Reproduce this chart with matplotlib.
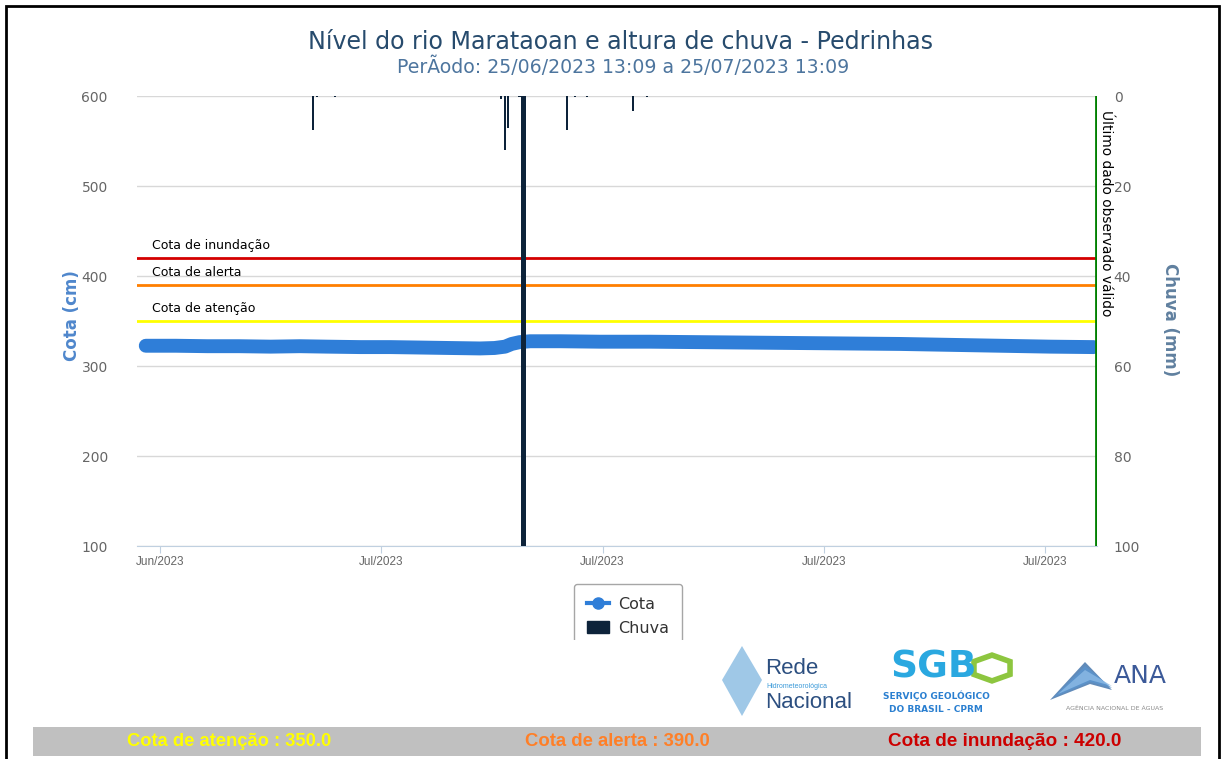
import matplotlib
matplotlib.use("Agg")
import matplotlib.pyplot as plt
import matplotlib.dates as mdates
import numpy as np
import pandas as pd
from matplotlib.patches import Rectangle, Polygon, Patch, RegularPolygon
from matplotlib.lines import Line2D

# ---------------- data ----------------
title = "Nível do rio Marataoan e altura de chuva - Pedrinhas"
subtitle = "PerÃodo: 25/06/2023 13:09 a 25/07/2023 13:09"

cota_times = ["2023-06-25 13:09", "2023-06-26 12:00", "2023-06-27 12:00", "2023-06-28 12:00",
              "2023-06-29 12:00", "2023-06-30 10:00", "2023-07-01 07:00", "2023-07-02 08:00",
              "2023-07-03 07:00", "2023-07-04 06:00", "2023-07-05 04:00", "2023-07-06 03:00",
              "2023-07-06 14:00", "2023-07-06 22:00", "2023-07-07 03:00", "2023-07-07 09:00",
              "2023-07-07 17:00", "2023-07-08 16:00", "2023-07-09 22:00", "2023-07-11 12:00",
              "2023-07-13 02:00", "2023-07-14 16:00", "2023-07-16 06:00", "2023-07-17 20:00",
              "2023-07-19 10:00", "2023-07-21 00:00", "2023-07-22 14:00", "2023-07-24 04:00",
              "2023-07-25 13:00"]
cota_values = [322.5, 322.5, 322.0, 322.0, 321.5, 322.0, 321.5, 321.0,
               321.0, 320.5, 320.0, 319.5, 320.0, 321.5, 324.5, 326.5,
               327.5, 327.5, 327.0, 327.0, 326.5, 326.0, 325.5, 325.0,
               324.5, 323.5, 322.5, 321.5, 321.0]

chuva_times = ["2023-06-30 20:00", "2023-06-30 23:00", "2023-07-01 13:00", "2023-07-06 19:00",
               "2023-07-06 22:00", "2023-07-07 00:00", "2023-07-07 09:00", "2023-07-07 12:00",
               "2023-07-08 21:00", "2023-07-09 03:00", "2023-07-09 12:00", "2023-07-10 23:00",
               "2023-07-11 10:00"]
chuva_values = [7.5, 0.3, 0.3, 0.6, 12.0, 7.0, 0.3, 100.0, 7.5, 0.3, 0.3, 3.3, 0.3]

cota_atencao = 350.0
cota_alerta = 390.0
cota_inundacao = 420.0
ultimo_dado = "2023-07-25 15:00"

x_range = ["2023-06-25 06:30", "2023-07-25 15:30"]
xtick_dates = ["2023-06-26", "2023-07-03", "2023-07-10", "2023-07-17", "2023-07-24"]
xtick_labels = ["Jun/2023", "Jul/2023", "Jul/2023", "Jul/2023", "Jul/2023"]
cota_ticks = [100, 200, 300, 400, 500, 600]
chuva_ticks = [0, 20, 40, 60, 80, 100]

bottom_texts = ["Cota de atenção : 350.0", "Cota de alerta : 390.0", "Cota de inundação : 420.0"]

# ---------------- figure ----------------
W, H = 1225, 759
fig = plt.figure(figsize=(W / 100, H / 100), dpi=100)
fig.patch.set_facecolor("white")


def fx(x):
    return x / W


def fy(y):
    return 1 - y / H


ax = fig.add_axes([fx(137), fy(546), (1097 - 137) / W, 450 / H])
ax2 = ax.twinx()

t_cota = pd.to_datetime(cota_times)
t_chuva = pd.to_datetime(chuva_times)

# grid
ax.set_ylim(100, 600)
ax.set_yticks(cota_ticks)
ax.yaxis.grid(True, color="#D8D8D8", lw=1)
ax.set_axisbelow(True)
for s in ["top", "left", "right"]:
    ax.spines[s].set_visible(False)
    ax2.spines[s].set_visible(False)
ax.spines["bottom"].set_color("#C0D0E0")
ax2.spines["bottom"].set_visible(False)

ax.set_xlim(pd.to_datetime(x_range[0]), pd.to_datetime(x_range[1]))
ax.set_xticks(pd.to_datetime(xtick_dates))
ax.set_xticklabels(xtick_labels)
ax.tick_params(axis="x", length=5, color="#C0D0E0", pad=2, labelsize=8.5, labelcolor="#666666")
for lab in ax.get_xticklabels():
    lab.set_family(["Liberation Sans Narrow", "Liberation Sans", "DejaVu Sans"])
ax.tick_params(axis="y", length=0, pad=21, labelsize=10, labelcolor="#666666")

# thresholds
thr = [(cota_inundacao, "#d40000", "Cota de inundação"),
       (cota_alerta, "#ff7f00", "Cota de alerta"),
       (cota_atencao, "#ffff00", "Cota de atenção")]
for val, col, lab in thr:
    ax.axhline(val, color=col, lw=2, zorder=3)
    ax.annotate(lab, xy=(0, val), xycoords=("axes fraction", "data"),
                xytext=(15, 6), textcoords="offset pixels", fontsize=9,
                color="black", ha="left", va="bottom")

# cota line
ax.plot(t_cota, cota_values, color="#2f7ed8", lw=10, solid_capstyle="round",
        solid_joinstyle="round", zorder=6)

# chuva bars
ax2.set_ylim(100, 0)
ax2.set_yticks(chuva_ticks)
ax2.tick_params(axis="y", length=0, pad=12, labelsize=10, labelcolor="#666666")
widths = np.where(np.array(chuva_values) >= 100, 0.13, 0.07)
ax2.bar(t_chuva, chuva_values, width=widths, color="#0d233a", align="center", zorder=4)
ax2.set_xlim(pd.to_datetime(x_range[0]), pd.to_datetime(x_range[1]))

# ultimo dado
t_ult = pd.to_datetime(ultimo_dado)
ax2.axvline(t_ult, color="#008000", lw=2, zorder=5)
ult = ax2.annotate("Último dado observado válido", xy=(mdates.date2num(t_ult), 0), xycoords="data",
                   xytext=(3, -14), textcoords="offset pixels", rotation=270, fontsize=9,
                   ha="left", va="top", color="black")

# axis titles
fig.text(fx(72), fy(316), "Cota (cm)", rotation=90, ha="center", va="center",
         fontsize=12, fontweight="bold", color="#4f87cc")
fig.text(fx(1170), fy(320), "Chuva (mm)", rotation=270, ha="center", va="center",
         fontsize=12, fontweight="bold", color="#60809f")

renderer = fig.canvas.get_renderer()


def fit(t, target, horizontal=True):
    bb = t.get_window_extent(renderer)
    w = bb.width if horizontal else bb.height
    t.set_fontsize(t.get_fontsize() * target / w)


fit(ult, 206, horizontal=False)

tt = fig.text(fx(620), fy(42), title, ha="center", va="center", fontsize=16, color="#274b6d")
fit(tt, 628)
st = fig.text(fx(623), fy(67), subtitle, ha="center", va="center", fontsize=11, color="#4d759e")
fit(st, 450)

# legend
handles = [Line2D([], [], color="#2f7ed8", lw=3, marker="o", ms=8),
           Patch(facecolor="#0d233a", edgecolor="#0d233a")]
leg = fig.legend(handles, ["Cota", "Chuva"], loc="upper center",
                 bbox_to_anchor=(fx(628), fy(576)), fontsize=11.5, frameon=True,
                 fancybox=True, edgecolor="#909090", handlelength=1.4,
                 handletextpad=0.6, labelspacing=0.55, borderpad=0.8)
for txt in leg.get_texts():
    txt.set_color("#333333")
leg.get_frame().set_linewidth(1)
clip = Rectangle((0, fy(640)), 1, 640 / H, transform=fig.transFigure)
leg.legendPatch.set_clip_path(clip)

# logos (approximations)
# Rede Hidrometeorologica Nacional
diamond = Polygon([(fx(742), fy(646)), (fx(762), fy(680)), (fx(742), fy(716)), (fx(722), fy(680))],
                  closed=True, transform=fig.transFigure, facecolor="#7fb6e0", edgecolor="none",
                  alpha=0.75)
fig.add_artist(diamond)
narrow = ["Liberation Sans Narrow", "Liberation Sans", "DejaVu Sans"]
fig.text(fx(765), fy(668), "Rede", fontsize=16, color="#2c4f80", family=narrow, va="center")
fig.text(fx(766), fy(686), "Hidrometeorológica", fontsize=5, color="#3b9ad9", family=narrow, va="center")
fig.text(fx(765), fy(703), "Nacional", fontsize=16, color="#2c4f80", family=narrow, va="center")

# SGB
fig.text(fx(890), fy(668), "SGB", fontsize=27, fontweight="bold", color="#2aa8e0", va="center")
hexa = RegularPolygon((fx(992), fy(668)), numVertices=6, radius=0.017,
                      transform=fig.transFigure, facecolor="none", edgecolor="#8dc63f", lw=4)
fig.add_artist(hexa)
fig.text(fx(936), fy(696), "SERVIÇO GEOLÓGICO", fontsize=6.5, fontweight="bold",
         color="#2a7fd0", ha="center", va="center")
fig.text(fx(936), fy(709), "DO BRASIL - CPRM", fontsize=6.5, fontweight="bold",
         color="#2a7fd0", ha="center", va="center")

# ANA
for i, col in enumerate(["#3a6ea8", "#5a95cf", "#8cbbe6"]):
    wave = Polygon([(fx(1050 + 4 * i), fy(700 - 3 * i)), (fx(1085), fy(662 + 4 * i)),
                    (fx(1112), fy(690 - 2 * i)), (fx(1090), fy(684 - 2 * i))],
                   closed=True, transform=fig.transFigure, facecolor=col, edgecolor="none", alpha=0.8)
    fig.add_artist(wave)
fig.text(fx(1114), fy(676), "ANA", fontsize=18, color="#3c5a99", va="center")
fig.text(fx(1115), fy(708), "AGÊNCIA NACIONAL DE ÁGUAS", fontsize=4.5, color="#888888",
         ha="center", va="center")

# bottom bar
fig.add_artist(Rectangle((fx(33), fy(756)), (1201 - 33) / W, 29 / H, transform=fig.transFigure,
                         facecolor="#c0c0c0", edgecolor="none"))
bt_cols = ["#ffff00", "#ff7f27", "#cc0000"]
bt_cx = [229, 617, 1005]
bt_w = [203, 184, 232]
for txt, col, cx, w in zip(bottom_texts, bt_cols, bt_cx, bt_w):
    t = fig.text(fx(cx), fy(741), txt, ha="center", va="center", fontsize=12,
                 fontweight="bold", color=col, family=["Liberation Sans", "DejaVu Sans"])
    fit(t, w)

# outer frame
fig.add_artist(Rectangle((fx(6), -0.05), (1219 - 6) / W, 1.05 - 6 / H, transform=fig.transFigure,
                         facecolor="none", edgecolor="black", lw=2))

fig.savefig("out.png", dpi=100)
